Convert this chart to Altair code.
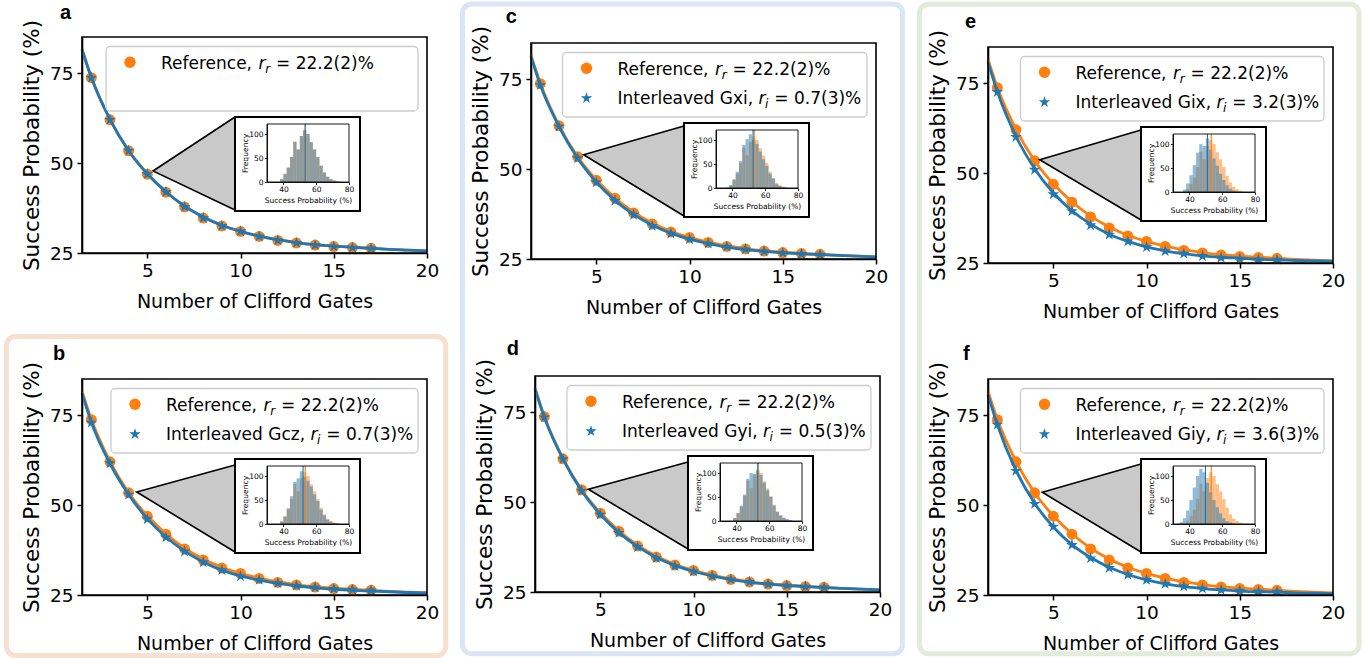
import altair as alt
import pandas as pd

# ---------------- data ----------------
panel_ids = ["a", "b", "c", "d", "e", "f"]
gates = [2, 3, 4, 5, 6, 7, 8, 9, 10, 11, 12, 13, 14, 15, 16, 17]
fit_gates = [1.5, 2, 3, 4, 5, 6, 7, 8, 9, 10, 11, 12, 13, 14, 15, 16, 17, 18, 19, 20]

reference_points = [73.7, 62.0, 53.4, 46.9, 41.9, 37.8, 34.7, 32.5, 31.0, 29.6, 28.5, 27.8, 27.2, 26.8, 26.5, 26.3]
reference_fit = [81.6, 73.8, 62.1, 53.4, 47.0, 42.0, 38.0, 35.0, 32.7, 31.0, 29.7, 28.7, 27.9, 27.3, 26.9, 26.6, 26.3, 26.0, 25.8, 25.6]

points_a = [73.7, 62.0, 53.4, 46.9, 41.9, 37.8, 34.7, 32.5, 31.0, 29.6, 28.5, 27.8, 27.2, 26.8, 26.5, 26.3]
points_b = [72.9, 61.6, 52.9, 46.1, 41.0, 37.1, 34.1, 31.9, 30.2, 29.2, 28.3, 27.6, 27.1, 26.7, 26.5, 26.3]
points_c = [73.3, 61.8, 53.0, 46.3, 41.2, 37.3, 34.2, 32.1, 30.5, 29.3, 28.4, 27.7, 27.1, 26.7, 26.4, 26.2]
points_d = [73.5, 61.9, 53.1, 46.5, 41.4, 37.5, 34.4, 32.2, 30.7, 29.4, 28.5, 27.8, 27.2, 26.8, 26.5, 26.3]
points_e = [72.5, 60.0, 50.9, 44.1, 39.4, 35.5, 32.9, 31.0, 29.4, 28.3, 27.6, 26.9, 26.5, 26.2, 26.0, 25.9]
points_f = [72.3, 59.5, 50.3, 44.0, 38.9, 35.2, 32.5, 30.6, 29.2, 28.1, 27.4, 26.8, 26.4, 26.2, 26.0, 25.9]

fit_a = [81.6, 73.8, 62.1, 53.4, 47.0, 42.0, 38.0, 35.0, 32.7, 31.0, 29.7, 28.7, 27.9, 27.3, 26.9, 26.6, 26.3, 26.0, 25.8, 25.6]
fit_b = [81.0, 73.0, 61.5, 52.9, 46.2, 41.1, 37.2, 34.2, 31.9, 30.3, 29.1, 28.2, 27.5, 27.0, 26.6, 26.3, 26.1, 25.9, 25.7, 25.6]
fit_c = [81.2, 73.3, 61.8, 53.0, 46.4, 41.3, 37.4, 34.4, 32.2, 30.5, 29.3, 28.3, 27.6, 27.1, 26.7, 26.4, 26.2, 26.0, 25.8, 25.6]
fit_d = [81.4, 73.5, 61.9, 53.1, 46.6, 41.5, 37.6, 34.6, 32.4, 30.7, 29.5, 28.5, 27.7, 27.2, 26.8, 26.5, 26.2, 26.0, 25.8, 25.6]
fit_e = [80.8, 72.6, 60.2, 51.2, 44.5, 39.5, 35.8, 33.0, 31.0, 29.5, 28.4, 27.6, 27.0, 26.6, 26.3, 26.0, 25.9, 25.7, 25.6, 25.5]
fit_f = [80.6, 72.3, 59.6, 50.5, 43.9, 39.0, 35.4, 32.7, 30.7, 29.2, 28.1, 27.3, 26.8, 26.4, 26.1, 25.9, 25.8, 25.6, 25.5, 25.4]

gate_names = {"b": "Gcz", "c": "Gxi", "d": "Gyi", "e": "Gix", "f": "Giy"}
gate_rates = {"b": "0.7(3)", "c": "0.7(3)", "d": "0.5(3)", "e": "3.2(3)", "f": "3.6(3)"}
reference_rate = "22.2(2)"

# histograms of the insets (bin left edges, width 2)
hist_bin_lo = [34, 36, 38, 40, 42, 44, 46, 48, 50, 52, 54, 56, 58, 60, 62, 64, 66, 68, 70, 72]
hist_bin_width = 2
hist_reference = [0, 0, 6, 17, 30, 52, 84, 68, 96, 108, 100, 83, 68, 52, 34, 20, 11, 6, 3, 1]
hist_a = [0, 0, 6, 17, 30, 52, 84, 68, 96, 108, 100, 83, 68, 52, 34, 20, 11, 6, 3, 1]
hist_b = [0, 0, 5, 15, 33, 58, 88, 95, 110, 98, 90, 78, 62, 48, 30, 18, 9, 5, 2, 1]
hist_c = [0, 1, 6, 18, 34, 56, 90, 102, 112, 100, 92, 76, 60, 46, 30, 20, 8, 4, 1, 0]
hist_d = [0, 0, 6, 16, 32, 55, 88, 100, 98, 104, 96, 80, 64, 50, 32, 19, 12, 7, 4, 2]
hist_e = [0, 5, 18, 35, 56, 82, 100, 96, 112, 88, 70, 55, 38, 25, 14, 7, 3, 1, 0, 0]
hist_f = [4, 12, 28, 50, 76, 100, 115, 108, 86, 66, 50, 35, 22, 12, 6, 3, 1, 0, 0, 0]
mean_reference = 53.3
mean_interleaved = {"a": 53.3, "b": 52.0, "c": 52.6, "d": 53.0, "e": 51.0, "f": 49.8}

x_ticks = [5, 10, 15, 20]
y_ticks = [25, 50, 75]
hist_x_ticks = [40, 60, 80]
hist_y_ticks = [0, 50, 100]

POINTS = {"a": points_a, "b": points_b, "c": points_c, "d": points_d, "e": points_e, "f": points_f}
FITS = {"a": fit_a, "b": fit_b, "c": fit_c, "d": fit_d, "e": fit_e, "f": fit_f}
HISTS = {"a": hist_a, "b": hist_b, "c": hist_c, "d": hist_d, "e": hist_e, "f": hist_f}

# ---------------- layout (pixels) ----------------
W, H = 1366, 658
PW, PH = 345, 216
ORIGIN = {"a": (82, 37), "b": (82, 379), "c": (531, 43), "d": (535, 376), "e": (988, 47), "f": (988, 379)}
LEG_LEFT = {"a": 24, "b": 29, "c": 31.5, "d": 32, "e": 32.5, "f": 32.5}
LEG_RIGHT, LEG_TOP, LEG_BOTTOM = 336, 9.5, 74
APEX = {"a": (71, 134), "b": (54.7, 113), "c": (52.6, 111.7), "d": (53.3, 113.3), "e": (51.7, 112.7), "f": (54.3, 113.3)}
TRI_TOP = {"a": 80, "b": 86, "c": 83, "d": 86, "e": 83, "f": 85}
TRI_X, TRI_BOTTOM = 153, 173
FRAME = (153, 80, 278, 174)
HIST_BOX = (185, 87, 267, 145)
LABEL_POS = {"a": (60, 19), "b": (53, 360), "c": (505.7, 22.7), "d": (506.7, 355), "e": (965, 28.3), "f": (963, 360)}
BORDERS = [
    (6.5, 336.5, 445.7, 655.5, "#f6e1d1"),
    (462.5, 4, 902.5, 653.7, "#dae6f3"),
    (919.5, 4.2, 1359, 653.7, "#e3ecda"),
]

ORANGE = "#ff7f0e"
BLUE = "#1f77b4"
FONT = "DejaVu Sans"
STAR = ("M0,-1L0.2245,-0.309L0.951,-0.309L0.363,0.118L0.588,0.809L0,0.382"
        "L-0.588,0.809L-0.363,0.118L-0.951,-0.309L-0.2245,-0.309Z")

DJV = {' ': 651, ',': 651, '.': 651, '=': 1716, '(': 799, ')': 799, '%': 1946,
       'R': 1423, 'e': 1260, 'f': 721, 'r': 842, 'n': 1298, 'c': 1126, 'I': 604,
       't': 803, 'l': 569, 'a': 1255, 'v': 1212, 'd': 1300, 'G': 1577, 'x': 1212,
       'i': 569, 'z': 1075, 'y': 1212}


def tw(s, size):
    return sum(DJV.get(ch, 1303) for ch in s) * size / 2048.0


ONE = pd.DataFrame({"k": [0]})


def deco():
    return alt.Chart(ONE)


def text_at(x, y, s, size, **kw):
    return deco().mark_text(align="left", baseline="alphabetic", font=FONT, fontSize=size,
                            color="black", **kw).encode(
        x=alt.value(x), y=alt.value(y), text=alt.value(s))


def main_panel(p):
    x0, y0 = ORIGIN[p]
    xs = alt.Scale(domain=[1.5, 20], range=[x0, x0 + PW], nice=False, zero=False)
    ys = alt.Scale(domain=[25, 85], range=[y0 + PH, y0], nice=False, zero=False)
    xax = alt.Axis(orient="bottom", offset=y0 + PH - H, values=x_ticks, title="Number of Clifford Gates",
                   tickSize=5, tickWidth=1.5, domainWidth=1.6, labelFontSize=18.5, labelPadding=3.5,
                   labelFlush=False, labelOverlap=False, titleFontSize=19,
                   titleBaseline="alphabetic", titleY=54)
    yax = alt.Axis(orient="left", offset=-x0, values=y_ticks, title="Success Probability (%)",
                   tickSize=5, tickWidth=1.5, domainWidth=1.6, labelFontSize=18.5, labelPadding=4,
                   labelFlush=False, labelOverlap=False, titleFontSize=21.5,
                   titleBaseline="alphabetic", titleX=-44, titleAngle=270)
    fit_df = pd.DataFrame({"g": fit_gates, "ref": reference_fit, "inter": FITS[p]})
    pts_df = pd.DataFrame({"g": gates, "ref": reference_points, "inter": POINTS[p]})
    X = alt.X("g:Q", scale=xs, axis=xax, title="Number of Clifford Gates")
    l1 = alt.Chart(fit_df).mark_line(color=ORANGE, strokeWidth=2.8, interpolate="monotone").encode(
        x=X, y=alt.Y("ref:Q", scale=ys, axis=yax, title="Success Probability (%)"))
    l2 = alt.Chart(pts_df).mark_point(shape="circle", filled=True, size=120, color=ORANGE, opacity=1).encode(
        x=X, y=alt.Y("ref:Q", scale=ys, axis=yax, title="Success Probability (%)"))
    l3 = alt.Chart(fit_df).mark_line(color=BLUE, strokeWidth=2.8, interpolate="monotone").encode(
        x=X, y=alt.Y("inter:Q", scale=ys, axis=yax, title="Success Probability (%)"))
    l4 = alt.Chart(pts_df).mark_point(shape=STAR, filled=True, size=150, color=BLUE, opacity=1).encode(
        x=X, y=alt.Y("inter:Q", scale=ys, axis=yax, title="Success Probability (%)"))
    return alt.layer(l1, l2, l3, l4)


def hist_panel(p):
    x0, y0 = ORIGIN[p]
    hx0, hy0, hx1, hy1 = x0 + HIST_BOX[0], y0 + HIST_BOX[1], x0 + HIST_BOX[2], y0 + HIST_BOX[3]
    xs = alt.Scale(domain=[30, 80], range=[hx0, hx1], nice=False, zero=False)
    ys = alt.Scale(domain=[0, 121], range=[hy1, hy0], nice=False, zero=False)
    xax = alt.Axis(orient="bottom", offset=hy1 - H, values=hist_x_ticks, title="Success Probability (%)",
                   tickSize=2.5, tickWidth=0.8, domainWidth=0.9, labelFontSize=7.5, labelPadding=0.8,
                   labelFlush=False, labelOverlap=False, titleFontSize=7.5,
                   titleBaseline="alphabetic", titleY=20.5, zindex=1)
    yax = alt.Axis(orient="left", offset=-hx0, values=hist_y_ticks, title="Frequency",
                   tickSize=2.5, tickWidth=0.8, domainWidth=0.9, labelFontSize=7.5, labelPadding=1.5,
                   labelFlush=False, labelOverlap=False, titleFontSize=7.6,
                   titleBaseline="alphabetic", titleX=-20, titleAngle=270, zindex=1)
    hdf = pd.DataFrame({"lo": hist_bin_lo, "hi": [v + hist_bin_width for v in hist_bin_lo],
                        "ref": hist_reference, "inter": HISTS[p]})
    X = lambda f: alt.X(f, scale=xs, axis=xax, title="Success Probability (%)")
    Y = lambda f: alt.Y(f, scale=ys, axis=yax, title="Frequency")
    b1 = alt.Chart(hdf).mark_rect(color=ORANGE, opacity=0.5).encode(
        x=X("lo:Q"), x2="hi:Q", y=Y("ref:Q"), y2=alt.datum(0))
    b2 = alt.Chart(hdf).mark_rect(color=BLUE, opacity=0.5).encode(
        x=X("lo:Q"), x2="hi:Q", y=Y("inter:Q"), y2=alt.datum(0))
    mdf = pd.DataFrame({"mr": [mean_reference], "mi": [mean_interleaved[p]], "bot": [0], "top": [121]})
    r1 = alt.Chart(mdf).mark_rule(color=ORANGE, strokeWidth=1.1).encode(
        x=X("mr:Q"), y=Y("bot:Q"), y2="top:Q")
    r2 = alt.Chart(mdf).mark_rule(color=BLUE, strokeWidth=1.1).encode(
        x=X("mi:Q"), y=Y("bot:Q"), y2="top:Q")
    return alt.layer(b1, b2, r1, r2)


PX = alt.Scale(domain=[0, W], range=[0, W], nice=False, zero=False)
PY = alt.Scale(domain=[0, H], range=[0, H], nice=False, zero=False)


def triangle(p):
    x0, y0 = ORIGIN[p]
    ax, ay = x0 + APEX[p][0], y0 + APEX[p][1]
    vx, vt, vb = x0 + TRI_X, y0 + TRI_TOP[p], y0 + TRI_BOTTOM
    area_df = pd.DataFrame({"x": [ax, vx], "y": [ay, vt], "y2": [ay, vb]})
    line_df = pd.DataFrame({"x": [vx, ax, vx], "y": [vt, ay, vb], "o": [0, 1, 2]})
    a = alt.Chart(area_df).mark_area(color="#c9c9c9", opacity=1).encode(
        x=alt.X("x:Q", scale=PX, axis=None), y=alt.Y("y:Q", scale=PY, axis=None), y2="y2:Q")
    l = alt.Chart(line_df).mark_line(color="black", strokeWidth=1.6).encode(
        x=alt.X("x:Q", scale=PX, axis=None), y=alt.Y("y:Q", scale=PY, axis=None), order="o:Q")
    return [a, l]


def legend(p):
    x0, y0 = ORIGIN[p]
    lx, top = x0 + LEG_LEFT[p], y0 + LEG_TOP
    out = [deco().mark_rect(fill="white", stroke="#cccccc", strokeWidth=1.3, cornerRadius=4).encode(
        x=alt.value(lx), x2=alt.value(x0 + LEG_RIGHT), y=alt.value(top), y2=alt.value(y0 + LEG_BOTTOM))]
    rows = [("Reference,", "r", "= " + reference_rate + "%", "circle", ORANGE, 130)]
    if p in gate_names:
        rows.append(("Interleaved " + gate_names[p] + ",", "i", "= " + gate_rates[p] + "%", STAR, BLUE, 140))
    for k, (t1, sub, t2, shape, col, size) in enumerate(rows):
        cy = top + 15.7 + 30 * k
        base = top + 22.7 + 29 * k
        out.append(deco().mark_point(shape=shape, filled=True, size=size, color=col, opacity=1).encode(
            x=alt.value(lx + 24), y=alt.value(cy)))
        tx = lx + 55
        out.append(text_at(tx, base, t1, 17))
        rx = tx + tw(t1 + " ", 17)
        out.append(text_at(rx, base, "r", 17, fontStyle="italic"))
        sx = rx + tw("r", 17) - 0.3
        out.append(text_at(sx, base + 4, sub, 12, fontStyle="italic"))
        ex = sx + tw(sub, 12) + 0.5 + tw(" ", 17)
        out.append(text_at(ex, base, t2, 17))
    return out


layers = []
for (bx1, by1, bx2, by2, col) in BORDERS:
    layers.append(deco().mark_rect(fill="transparent", stroke=col, strokeWidth=5, cornerRadius=9).encode(
        x=alt.value(bx1), x2=alt.value(bx2), y=alt.value(by1), y2=alt.value(by2)))

for p in panel_ids:
    x0, y0 = ORIGIN[p]
    layers.append(main_panel(p))
    layers.append(deco().mark_rect(fill="transparent", stroke="black", strokeWidth=1.6).encode(
        x=alt.value(x0), x2=alt.value(x0 + PW), y=alt.value(y0), y2=alt.value(y0 + PH)))
    layers.extend(legend(p))
    layers.extend(triangle(p))
    fx0, fy0, fx1, fy1 = FRAME
    layers.append(deco().mark_rect(fill="white", stroke="black", strokeWidth=2).encode(
        x=alt.value(x0 + fx0), x2=alt.value(x0 + fx1), y=alt.value(y0 + fy0), y2=alt.value(y0 + fy1)))
    layers.append(hist_panel(p))
    hx0, hy0, hx1, hy1 = HIST_BOX
    layers.append(deco().mark_rect(fill="transparent", stroke="black", strokeWidth=0.9).encode(
        x=alt.value(x0 + hx0), x2=alt.value(x0 + hx1), y=alt.value(y0 + hy0), y2=alt.value(y0 + hy1)))
    lxp, lyp = LABEL_POS[p]
    layers.append(deco().mark_text(align="left", baseline="alphabetic", font="Liberation Sans",
                                   fontSize=20, fontWeight="bold", color="black").encode(
        x=alt.value(lxp), y=alt.value(lyp), text=alt.value(p)))

chart = alt.layer(*layers).resolve_scale(x="independent", y="independent").properties(
    width=W, height=H, padding=0, autosize=alt.AutoSizeParams(type="none"), background="white"
).configure_view(stroke=None).configure_axis(
    grid=False, labelFont=FONT, titleFont=FONT, titleFontWeight="normal",
    domainColor="black", tickColor="black", labelColor="black", titleColor="black"
)

chart.save("out.html", embed_options={"renderer": "svg", "actions": False})
